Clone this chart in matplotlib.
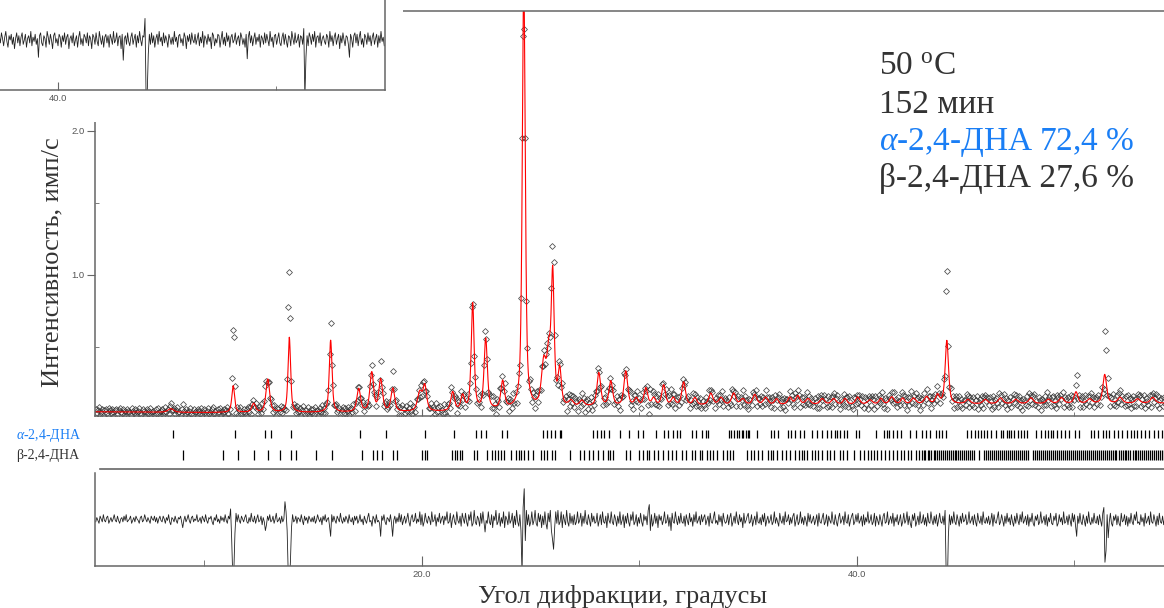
import numpy as np
import matplotlib
matplotlib.use('Agg')
from matplotlib import pyplot as plt
from matplotlib.patches import Rectangle
from matplotlib.lines import Line2D

# --- reflection positions, 2theta (deg) ---
alpha_refl = [8.55, 11.39, 12.78, 13.08, 14.0, 17.17, 18.33,
              20.13, 21.45, 22.47, 22.70, 22.93, 23.67, 23.90, 25.58, 25.74, 25.92, 26.10, 26.35, 26.41,
              27.88, 28.03, 28.25, 28.37, 28.60, 29.11, 29.52, 29.95, 30.18, 30.75, 31.13, 31.29,
              31.56, 31.71, 31.86, 32.43, 32.59, 32.89, 33.05, 33.15, 34.12, 34.23, 34.35, 34.47, 34.58,
              34.69, 34.78, 34.89, 34.99, 35.04, 35.39, 36.03, 36.19, 36.37, 36.83, 36.98, 37.14, 37.38,
              37.57, 37.95, 38.18, 38.41, 38.64, 38.79, 38.97, 39.10, 39.22, 39.40, 39.56, 39.94, 40.09,
              40.86, 41.24, 41.37, 41.47, 41.67, 41.86, 42.04, 42.44, 42.70,
              43.01, 43.16, 43.36, 43.62, 43.77, 43.93, 44.08, 45.05, 45.23, 45.41, 45.57, 45.69, 45.84,
              46.00, 46.15, 46.38, 46.61, 46.73, 46.89, 46.99, 47.10, 47.22, 47.38, 47.53, 47.68, 47.80,
              48.22, 48.45, 48.63, 48.76, 48.91, 49.03, 49.18, 49.37, 49.55, 49.75, 50.01, 50.21, 50.75,
              50.90, 51.08, 51.29, 51.44, 51.59, 51.82, 52.00, 52.20, 52.40, 52.59, 52.74, 52.89, 53.05,
              53.23, 53.43, 53.66, 53.84, 54.04]
beta_refl = [9.01, 10.87, 11.56, 12.28, 12.94, 13.49, 13.97, 14.20, 15.11, 15.85, 17.26, 17.77, 17.92,
             18.18, 18.69, 18.83,
             20.02, 20.13, 20.25, 21.40, 21.51, 21.63, 21.75, 21.86, 22.39, 22.55, 23.01, 23.24, 23.34,
             23.50, 23.62, 23.77, 24.08, 24.31, 24.46, 24.54, 24.69, 24.88, 25.09, 25.46, 25.61, 25.77,
             26.00, 26.12, 26.81, 27.27, 27.45, 27.68, 27.88, 28.09, 28.30, 28.53, 28.65, 28.76, 29.37,
             29.57, 29.98, 30.14, 30.33, 30.44, 30.67, 30.85, 31.10, 31.31,
             31.51, 31.67, 31.97, 32.13, 32.43, 32.54, 32.78, 32.89, 33.09, 33.24, 33.40, 33.58, 33.86,
             34.01, 34.16, 34.32, 34.96, 35.11, 35.27, 35.45, 35.65, 35.91, 36.03, 36.16, 36.31, 36.53,
             36.72, 36.92, 37.14, 37.34, 37.45, 37.57, 37.72, 37.91, 38.06, 38.21, 38.41, 38.64, 38.76,
             38.92, 39.22, 39.37, 39.56, 39.84, 40.14, 40.32, 40.51, 40.63, 40.78, 40.94, 41.09, 41.28,
             41.47, 41.67, 41.86, 42.01, 42.16, 42.35, 42.50, 42.70, 42.85,
             42.97, 43.06, 43.14, 43.25, 43.33, 43.41, 43.52, 43.60, 43.69, 43.78, 43.86, 43.95, 44.06,
             44.13, 44.21, 44.32, 44.40, 44.49, 44.57, 44.66, 44.75, 44.83, 44.92, 45.01, 45.10, 45.21,
             45.30, 45.38, 45.62, 45.86, 45.95, 46.04, 46.13, 46.22, 46.30, 46.41, 46.50, 46.58, 46.67,
             46.76, 46.85, 46.96, 47.05, 47.13, 47.22, 47.31, 47.42, 47.50, 47.58, 47.70, 47.79, 47.88,
             48.08, 48.20, 48.29, 48.37, 48.46, 48.55, 48.66, 48.74, 48.83, 48.92, 49.01, 49.10, 49.21,
             49.30, 49.38, 49.47, 49.56, 49.67, 49.75, 49.84, 49.93, 50.02, 50.11, 50.22, 50.30, 50.39,
             50.48, 50.58, 50.66, 50.75, 50.84, 50.95, 51.04, 51.12, 51.21, 51.30, 51.40, 51.48, 51.57,
             51.66, 51.76, 51.85, 51.93, 52.03, 52.12, 52.21, 52.31, 52.39, 52.48, 52.57, 52.67, 52.76,
             52.84, 52.93, 53.03, 53.12, 53.20, 53.30, 53.39, 53.47, 53.57, 53.66, 53.75, 53.84, 53.93,
             54.02, 54.10]

# --- calculated pattern: peak list (position, height above background, fwhm) ---
peak_pos = [8.45, 11.32, 12.26, 12.91, 13.90, 15.80, 17.09, 17.69, 18.10, 18.66, 19.90, 20.13, 21.41,
            21.87, 22.33, 22.93, 23.71, 24.68, 25.60, 25.83, 26.01, 26.33, 26.85, 27.35, 28.13, 28.68,
            29.37, 29.85, 30.29, 30.65, 31.11, 31.55, 32.03, 32.55, 33.28, 33.75, 34.33, 34.75, 35.30,
            35.80, 36.30, 36.91, 37.28, 37.75, 38.40, 38.93, 39.45, 40.03, 40.60, 41.10, 41.60, 42.10,
            42.60, 43.20, 43.70, 44.13, 45.10, 45.90, 46.60, 47.30, 48.00, 48.80, 49.40, 50.07, 50.70,
            51.39, 52.10, 52.90, 53.60]
peak_height = [0.025, 0.185, 0.06, 0.23, 0.52, 0.50, 0.16, 0.27, 0.22, 0.16, 0.13, 0.17, 0.13,
               0.10, 0.74, 0.49, 0.19, 3.0, 0.30, 0.33, 0.90, 0.25, 0.04, 0.04, 0.23, 0.17,
               0.24, 0.05, 0.12, 0.05, 0.14, 0.05, 0.16, 0.05, 0.08, 0.05, 0.08, 0.04, 0.07,
               0.05, 0.04, 0.05, 0.06, 0.04, 0.04, 0.04, 0.04, 0.05, 0.03, 0.04, 0.05, 0.04,
               0.04, 0.05, 0.06, 0.44, 0.03, 0.03, 0.04, 0.03, 0.04, 0.03, 0.04, 0.08, 0.03,
               0.20, 0.04, 0.03, 0.04]
peak_fwhm = [0.30, 0.15, 0.20, 0.20, 0.14, 0.15, 0.20, 0.20, 0.20, 0.20, 0.25, 0.20, 0.20,
             0.20, 0.16, 0.18, 0.20, 0.16, 0.25, 0.20, 0.16, 0.18, 0.25, 0.25, 0.20, 0.20,
             0.20, 0.20, 0.20, 0.20, 0.20, 0.20, 0.20, 0.20, 0.22, 0.25, 0.22, 0.25, 0.22,
             0.25, 0.20, 0.22, 0.22, 0.25, 0.25, 0.25, 0.20, 0.22, 0.25, 0.20, 0.25, 0.20,
             0.25, 0.25, 0.20, 0.18, 0.25, 0.25, 0.25, 0.25, 0.25, 0.25, 0.25, 0.20, 0.25,
             0.20, 0.25, 0.25, 0.25]

# background points
bg_angle = [5.0, 10.0, 16.0, 21.0, 25.0, 28.0, 33.0, 40.0, 54.2]
bg_level = [0.05, 0.045, 0.045, 0.05, 0.065, 0.085, 0.095, 0.10, 0.11]

# --- observed minus calculated, step 0.05 deg from 5.0, units of 0.01 ---
obs_start, obs_step = 5.0, 0.05
resid = [
    2, -1, 1, 3, -2, 0, 2, -3, 1, 2, -1, -2, 3, 1, -1, 2, 0, -3, 1, 2,
    -2, 1, 3, 0, -1, 2, -2, 1, -3, 2, 1, 0, -2, 3, 1, -1, 2, -2, 0, 1,
    3, -1, -2, 2, 1, -3, 0, 2, -1, 1, 3, -2, 0, 1, -2, 2, -1, 3, 0, -2,
    1, 2, -2, 0, 3, -1, 1, -3, 2, 4, -1, 0, 2, -2, 1, 3, -1, 0, -2, 2,
    6, 1, -2, 2, 0, -3, 1, 3, -1, -2, 2, 0, 1, -3, 2, 1, -1, 3, -2, 0,
    2, -3, 1, 3, -1, 0, -2, 2, 4, -1, 1, -3, 2, 0, 3, -2, 1, -1, 2, -3,
    1, 3, -2, 0, -7, 14, 40, 36, 10, -4, 2, -3, 1, 3, -2, 0, 2, -1, -3, 2,
    3, -1, 2, -4, 1, 2, -2, 3, 0, -3, 2, 1, -2, 4, -1, 2, 8, 4, -2, 1,
    -3, 2, 1, -2, 3, 0, -4, 2, 1, -1, 3, -2, 2, 0, -12, -5, 8, 38, 45, 30,
    6, -3, 2, 1, -2, 3, -1, 0, 2, -3, 1, 4, -2, 1, -1, 3, -2, 0, 2, -1,
    2, -2, 3, 1, -3, 0, 2, -1, 4, -2, 1, -3, 2, 0, -1, 5, 12, -3, 2, -2,
    1, 3, -2, 0, 2, -4, 1, 3, -1, 2, -2, 0, 3, -3, 1, 2, -1, 4, -2, 1,
    -2, 3, 1, -3, 2, 0, 4, -2, 1, 3, -1, -4, 2, 1, 5, -2, 0, 3, -3, 2,
    1, 3, 12, -2, 1, -3, 2, 4, -1, 0, 2, -3, 3, 12, 1, -2, 3, -1, 2, -4,
    2, -3, 4, 1, -2, 3, 0, -4, 2, 5, -1, -3, 2, 1, -4, 3, 0, 2, -5, 4,
    -3, 5, 2, -4, 1, 3, -2, 0, 4, -5, 2, 1, -3, 5, -1, 2, -4, 3, 0, -2,
    4, -2, 1, -5, 3, 2, -4, 6, 0, -3, 2, 4, -5, 1, 3, -2, 5, -4, 0, 3,
    -4, 2, 5, -3, 1, -5, 5, 3, -6, 2, 4, -2, 0, 5, -4, 3, -5, 2, 9, 1,
    3, -5, 2, 4, -3, 6, -2, 1, -6, 4, 2, -4, 5, -1, 3, -5, 6, -2, 0, 4,
    -5, 3, 1, -4, 6, -2, 4, -6, 2, 5, -3, 8, 38, -8, -21, 15, -6, 4, -3, 5,
    2, -5, 4, 1, -6, 3, 5, -4, 2, -3, 6, -2, 4, -5, 3, 7, -4, 2, -6, 8,
    14, 21, 6, -5, 3, -6, 4, 2, -5, 6, -3, 1, 4, -6, 2, 5, -4, 3, -2, 4,
    -3, 4, 2, -5, 3, 1, -4, 5, -2, 3, -6, 2, 4, -3, 1, 5, -4, 2, -2, 3,
    2, -4, 5, 1, -3, 4, -5, 2, 3, -2, 6, -4, 1, 3, -5, 2, 4, -3, 0, 5,
    -2, 3, -5, 4, 1, -3, 6, -2, 3, -4, 2, 5, -3, 1, -5, 4, 2, -3, 5, -1,
    3, -4, 2, 5, -3, 1, -2, 4, -6, -10, 8, -3, 5, 2, -4, 3, -2, 6, -3, 1,
    -2, 4, 1, -5, 3, 2, -3, 5, -1, 8, -4, 2, 3, -5, 1, 4, -2, 3, -4, 2,
    3, -2, 5, -3, 1, 4, -4, 2, -1, 5, -3, 2, -5, 3, 1, -2, 4, -3, 2, -1,
    -3, 4, 1, -2, 5, -4, 2, 3, -1, -5, 3, 1, 4, -3, 2, -2, 5, -4, 1, 3,
    2, -3, 4, -1, -4, 5, 2, -2, 3, -5, 1, 4, -3, 2, -1, 6, -4, 3, 1, -2,
    -4, 3, 2, -3, 5, 1, -2, 4, -5, 2, 3, -1, 4, -3, 2, -4, 5, 1, -2, 3,
    1, -3, 4, 2, -5, 3, -1, 2, 5, -4, 1, 3, -2, 4, -5, 2, 1, -3, 4, -1,
    3, -2, -4, 5, 1, -3, 4, 2, -5, 3, -1, 4, -2, 1, 5, -4, 2, -3, 3, 1,
    -2, 4, 1, -3, 5, -4, 2, 3, -1, -4, 4, 2, -3, 5, -2, 1, 3, -5, 2, 4,
    -3, 2, 5, -1, -4, 3, 1, -2, 4, -5, 2, 3, -3, 5, 1, -2, -4, 4, 2, -3,
    2, -4, 3, 1, -2, 5, -3, 4, -1, 2, -5, 3, 1, -3, 4, 2, -4, 5, -2, 1,
    4, -3, 1, 5, -2, -4, 3, 2, -5, 4, 1, -2, 3, -4, 5, -1, 2, -3, 4, 1,
    -3, 5, 2, -4, 3, 1, -5, 4, -2, 3, 6, -3, 1, -4, 5, 2, -2, 4, -5, 3,
    2, -3, 4, -1, 5, -4, 2, 3, -5, 1, 4, -2, 3, -3, 5, 1, -4, 2, 3, -2,
    4, -6, 38, 50, 12, -3, 4, -2, 3, -5, 2, 4, -3, 1, 5, -2, 3, -4, 2, 1,
    -3, 4, 2, -5, 3, 1, -2, 4, -3, 2, 5, -4, 1, 3, -2, 4, -5, 2, 3, -1,
    3, -2, 4, 1, -4, 5, -3, 2, 3, -1, -5, 4, 2, -3, 1, 5, -2, 3, -4, 2,
    -1, 4, -3, 2, 5, -2, 3, -4, 1, 4, -3, 2, -5, 3, 1, -2, 4, -3, 5, -1,
    2, -4, 3, 5, -2, 1, -3, 4, 2, -5, 3, 1, -2, 4, -3, 5, -1, 2, -4, 3,
    4, -2, 1, -4, 5, 3, -3, 2, -1, 4, -5, 3, 2, -2, 4, -3, 1, 5, -4, 2,
    -3, 5, 12, -2, 3, -4, 2, 4, -3, 1, 5, -2, 3, -5, 2, 4, -1, 3, -4, 2,
    3, -2, 4, -3, 1, 5, -4, -8, 30, 22, -3, 13, 2, -4, 3, 5, -2, 1, -3, 4,
    -2, 3, 5, -4, 2, 1, -3, 4, -2, 5, -1, 3, -4, 2, 4, -3, 1, -5, 3, 2,
    4, -3, 2, -1, 5, -4, 3, 1, -2, 4, -5, 2, 3, -3, 1, 5, -2, 4, -4, 2,
    3, -2, 4, -1,
]

# difference curve of the previous scan (cut piece, top left), step 0.05 from 37.3, units 0.01
prev_start, prev_step = 37.3, 0.05
prev_diff = [
    3, -2, 5, 1, -4, 2, 6, -1, -5, 3, 0, 4, -3, 2, -6, 1, 5, -2, 3, -4,
    2, 5, -3, 0, 4, -5, 1, 3, -2, 6, -4, 2, -1, 4, -3, 1, -12, 3, 5, -2,
    -4, 3, 1, -5, 6, 2, -3, 4, 0, -6, 3, 5, -2, 1, -4, 4, 2, -5, 3, -1,
    5, -3, 2, 4, -6, 1, 3, -2, 5, -4, 0, 3, -5, 2, 6, -3, 1, -4, 4, 2,
    -2, 5, -4, 3, 1, -6, 4, 2, -3, 5, -1, -4, 6, 1, -3, 3, -5, 2, 4, -2,
    3, -5, 4, 1, -3, 6, -2, 0, 5, -4, 2, 3, -6, 4, -14, 1, 3, -3, 5, -1,
    -4, 2, 5, -3, 1, 4, -5, 3, -2, 6, 0, -4, 3, 2, 15, -40, -38, -10, 4, -3,
    5, -2, 3, -5, 1, 4, -3, 6, -1, 2, -4, 5, -2, 3, 0, -5, 4, 1, -3, 2,
    -3, 6, -1, 2, -5, 3, 4, -2, 1, -4, 5, 2, -6, 3, -1, 4, -3, 5, 0, -2,
    4, -3, 1, 5, -4, 2, -2, 6, -5, 3, 1, -3, 4, -1, 2, -6, 5, 3, -4, 1,
    -2, 4, 3, -5, 1, 6, -3, 2, -4, 5, -1, 3, -5, 2, 4, -2, 0, 5, -3, 1,
    3, -4, 5, 2, -3, 1, -5, 4, -13, 2, 6, -2, 3, -4, 1, 5, -3, 2, -1, 4,
    -5, 3, 1, -3, 5, -2, 4, 0, -4, 6, -1, 2, -5, 3, 4, -3, 1, 5, -2, -4,
    2, 5, -3, 4, -1, -5, 3, 2, -4, 6, 1, -3, 5, -2, 0, 4, -5, 3, 2, -3,
    8, -40, -12, 3, -4, 5, 2, -3, 4, -1, 6, -5, 2, 3, -2, 5, -4, 1, 3, -1,
    -3, 4, 2, -5, 6, -1, 3, -4, 2, 5, -3, 1, 4, -6, 3, -2, 5, 0, -4, 3,
    2, -3, -12, 4, 1, -5, 3, 5, -2, 4, -4, 2, 6, -3, 1, -5, 4, 2, -3, 5,
    -1, 3, -4, 2, 5, -3, 1, 4, -5, 3, -2, 6, -1, 2, -4,
]


def calc_profile(x):
    # background + pseudo-Voigt peaks
    y = np.interp(x, bg_angle, bg_level)
    for c, h, w in zip(peak_pos, peak_height, peak_fwhm):
        d = (x - c) / (w / 2)
        y = y + h * (0.6 / (1 + d ** 2) + 0.4 * np.exp(-np.log(2) * d ** 2))
    return y


tt_obs = obs_start + obs_step * np.arange(len(resid))
calc_at_obs = calc_profile(tt_obs)
obs = calc_at_obs + np.array(resid) / 100.0
tt_fine = np.arange(4.9, 54.3, 0.005)
calc_fine = calc_profile(tt_fine)
tt_prev = prev_start + prev_step * np.arange(len(prev_diff))

W, H = 1164, 608
grey = '#666666'
serif = 'Liberation Serif'
plt.rcParams['font.family'] = 'Liberation Sans'
plt.rcParams['mathtext.fontset'] = 'custom'
plt.rcParams['mathtext.rm'] = serif
plt.rcParams['mathtext.it'] = serif + ':italic'

fig = plt.figure(figsize=(W / 100, H / 100), dpi=100)


def box(x0, y0, x1, y1):
    # pixel box (from top-left) -> figure rect
    return [x0 / W, 1 - y1 / H, (x1 - x0) / W, (y1 - y0) / H]


xmin, xmax = 4.966, 54.115

# main pattern
ax = fig.add_axes(box(95, 11, 1164, 416))
ax.plot(tt_obs, obs, ls='none', marker='D', ms=3.0, mfc='none', mec='#333333', mew=0.55, alpha=0.9)
ax.plot(tt_fine, calc_fine, color='#ff0000', lw=0.8)
ax.set_xlim(xmin, xmax)
ax.set_ylim(0.021, 2.833)
ax.set_xticks([20, 40])
ax.set_xticks([10, 30, 50], minor=True)
ax.set_yticks([1.0, 2.0])
ax.set_yticklabels(['1.0', '2.0'])
ax.set_yticks([0.5, 1.5], minor=True)
ax.tick_params(axis='x', which='both', direction='in', labelbottom=False, color=grey)
ax.tick_params(axis='x', which='major', length=5)
ax.tick_params(axis='x', which='minor', length=3)
ax.tick_params(axis='y', which='major', direction='out', length=6, color=grey, labelsize=6.8,
               labelcolor='#555555', pad=1.5)
ax.tick_params(axis='y', which='minor', direction='in', length=3, color=grey)
ax.spines['right'].set_visible(False)
for s in ['left', 'bottom', 'top']:
    ax.spines[s].set_color(grey)
    ax.spines[s].set_linewidth(1.1)

# reflection markers
rax = fig.add_axes(box(95, 424, 1164, 464))
rax.vlines(alpha_refl, 0.64, 0.86, color='black', lw=0.9)
rax.vlines(beta_refl, 0.11, 0.34, color='black', lw=0.9)
rax.set_xlim(xmin, xmax)
rax.set_ylim(0, 1)
rax.axis('off')

fig.text(16 / W, 1 - 436 / H, r'$\alpha$-2,4-ДНА', fontsize=10, family=serif, color='#1a7ef5', va='center')
fig.text(16 / W, 1 - 456 / H, 'β-2,4-ДНА', fontsize=10, family=serif, color='#333333', va='center')

fig.add_artist(Line2D([100 / W, 1.0], [1 - 469 / H, 1 - 469 / H], color=grey, lw=1.2))

# difference curve (calc - obs)
dax = fig.add_axes(box(95, 473, 1164, 566))
dax.plot(tt_obs, calc_at_obs - obs, color='#222222', lw=0.6)
dax.set_xlim(xmin, xmax)
dax.set_ylim(-0.326, 0.319)
dax.set_xticks([20, 40])
dax.set_xticklabels(['20.0', '40.0'])
dax.set_xticks([10, 30, 50], minor=True)
dax.set_yticks([])
dax.tick_params(axis='x', which='both', direction='in', color=grey, labelsize=6.8,
                labelcolor='#555555', pad=3)
dax.tick_params(axis='x', which='major', length=7)
dax.tick_params(axis='x', which='minor', length=4)
dax.spines['top'].set_visible(False)
dax.spines['right'].set_visible(False)
for s in ['left', 'bottom']:
    dax.spines[s].set_color(grey)
    dax.spines[s].set_linewidth(1.1)

# white block over the top-left corner with the piece of the previous scan
fig.add_artist(Rectangle((0, 1 - 122 / H), 403 / W, 122 / H, transform=fig.transFigure,
                         facecolor='white', edgecolor='none', zorder=5))
iax = fig.add_axes(box(0, 0, 385, 90))
iax.set_zorder(6)
iax.plot(tt_prev, np.array(prev_diff) / 100.0, color='#222222', lw=0.6)
iax.set_xlim(37.333, 55.034)
iax.set_ylim(-0.347, 0.278)
iax.set_xticks([40])
iax.set_xticklabels(['40.0'])
iax.set_xticks([50], minor=True)
iax.set_yticks([])
iax.tick_params(axis='x', which='both', direction='in', color=grey, labelsize=6.8,
                labelcolor='#555555', pad=3)
iax.tick_params(axis='x', which='major', length=6)
iax.tick_params(axis='x', which='minor', length=3)
iax.spines['top'].set_visible(False)
iax.spines['left'].set_visible(False)
for s in ['right', 'bottom']:
    iax.spines[s].set_color(grey)
    iax.spines[s].set_linewidth(1.1)

# axis titles
fig.text(623 / W, 1 - 597 / H, 'Угол дифракции, градусы', fontsize=19, family=serif,
         color='#333333', ha='center', va='center')
fig.text(52 / W, 1 - 262 / H, 'Интенсивность, имп/с', fontsize=19, family=serif,
         color='#333333', ha='center', va='center', rotation=90)

# sample info
info_x = 879 / W
fig.text(info_x, 1 - 75 / H, r'50 $^{\rm o}$C', fontsize=24, family=serif, color='#333333', va='baseline')
fig.text(info_x, 1 - 113 / H, '152 мин', fontsize=24, family=serif, color='#333333', va='baseline')
fig.text(info_x, 1 - 150 / H, r'$\alpha$-2,4-ДНА 72,4 %', fontsize=24, family=serif, color='#1a7ef5',
         va='baseline')
fig.text(info_x, 1 - 187 / H, 'β-2,4-ДНА 27,6 %', fontsize=24, family=serif, color='#333333', va='baseline')

plt.savefig('out.png', dpi=100)
